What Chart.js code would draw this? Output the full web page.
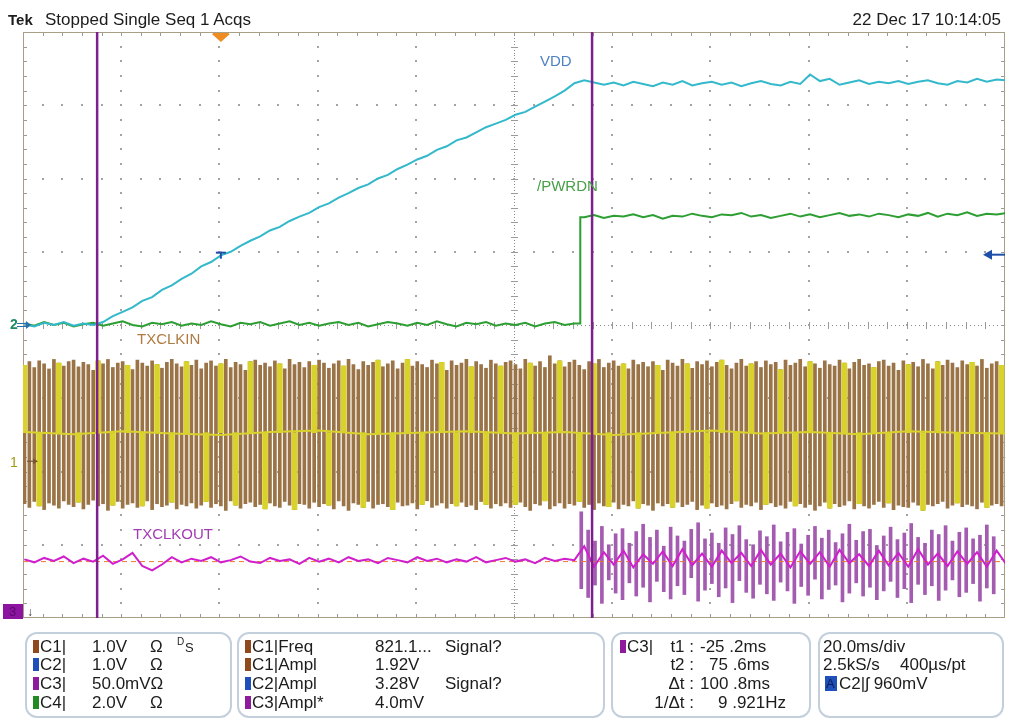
<!DOCTYPE html>
<html>
<head>
<meta charset="utf-8">
<title>Tek capture - VDD / PWRDN / TXCLK</title>
<script src="https://cdn.jsdelivr.net/npm/chart.js@4.4.1/dist/chart.umd.min.js"></script>
<style>
  html, body { margin: 0; padding: 0; background: #fff; }
  body { position: relative; width: 1009px; height: 719px; overflow: hidden;
         font-family: "Liberation Sans", Arial, sans-serif; color: #1c1c1c; }
  #scope { position: absolute; left: 0; top: 0; }
  .t { position: absolute; white-space: nowrap; line-height: 1; }
  .hdr { font-size: 17px; top: 11px; }
  .lbl { font-size: 15px; }
  .row { font-size: 17px; }
  .box { position: absolute; top: 632px; height: 86px; box-sizing: border-box;
         border: 2px solid #c3d0dc; border-radius: 12px; }
  .sw { position: absolute; width: 6px; height: 13px; }
</style>
</head>
<body>
<canvas id="scope" width="1009" height="719"></canvas>

<!-- header -->
<div class="t hdr" style="left:8px;font-weight:bold;font-size:15px;top:12px">Tek</div>
<div class="t hdr" style="left:45px">Stopped Single Seq 1 Acqs</div>
<div class="t hdr" style="right:8px">22 Dec 17 10:14:05</div>

<!-- trace labels -->
<div class="t lbl" style="left:540px;top:53px;color:#4f82c2">VDD</div>
<div class="t lbl" style="left:537px;top:178px;color:#46a046">/PWRDN</div>
<div class="t lbl" style="left:137px;top:331px;color:#b07b42">TXCLKIN</div>
<div class="t lbl" style="left:133px;top:526px;color:#a23cb2">TXCLKOUT</div>

<!-- channel ground markers -->
<div class="t" style="left:10px;top:317px;font-size:14px;font-weight:bold;color:#1f8c62">2</div>
<div class="t" style="left:10px;top:455px;font-size:14px;color:#a39a12">1</div>
<div style="position:absolute;left:3px;top:604px;width:20px;height:15px;background:#8c14a0"></div>
<div class="t" style="left:9px;top:605px;font-size:13px;color:#5a0a6c">3</div>
<div class="t" style="left:27px;top:606px;font-size:12px;color:#333">↓</div>

<!-- readout boxes -->
<div class="box" style="left:25px;width:207px"></div>
<div class="box" style="left:237px;width:368px"></div>
<div class="box" style="left:611px;width:200px"></div>
<div class="box" style="left:818px;width:186px"></div>

<div class="sw" style="left:33px;top:640px;background:#8e4a1c"></div>
<div class="t row" style="left:40px;top:638px">C1|</div>
<div class="t row" style="left:92px;top:638px">1.0V</div>
<div class="t row" style="left:150px;top:638px">Ω</div>
<div class="t" style="left:177px;top:637px;font-size:10px">D</div>
<div class="t" style="left:185px;top:641px;font-size:13px">S</div>
<div class="sw" style="left:33px;top:658px;background:#1f4fb8"></div>
<div class="t row" style="left:40px;top:656px">C2|</div>
<div class="t row" style="left:92px;top:656px">1.0V</div>
<div class="t row" style="left:150px;top:656px">Ω</div>
<div class="sw" style="left:33px;top:677px;background:#8e1a9c"></div>
<div class="t row" style="left:40px;top:675px">C3|</div>
<div class="t row" style="left:92px;top:675px">50.0mVΩ</div>
<div class="sw" style="left:33px;top:696px;background:#238a23"></div>
<div class="t row" style="left:40px;top:694px">C4|</div>
<div class="t row" style="left:92px;top:694px">2.0V</div>
<div class="t row" style="left:150px;top:694px">Ω</div>

<div class="sw" style="left:245px;top:640px;background:#8e4a1c"></div>
<div class="t row" style="left:252px;top:638px">C1|Freq</div>
<div class="t row" style="left:375px;top:638px">821.1...</div>
<div class="t row" style="left:445px;top:638px">Signal?</div>
<div class="sw" style="left:245px;top:658px;background:#8e4a1c"></div>
<div class="t row" style="left:252px;top:656px">C1|Ampl</div>
<div class="t row" style="left:375px;top:656px">1.92V</div>
<div class="sw" style="left:245px;top:677px;background:#1f4fb8"></div>
<div class="t row" style="left:252px;top:675px">C2|Ampl</div>
<div class="t row" style="left:375px;top:675px">3.28V</div>
<div class="t row" style="left:445px;top:675px">Signal?</div>
<div class="sw" style="left:245px;top:696px;background:#8e1a9c"></div>
<div class="t row" style="left:252px;top:694px">C3|Ampl*</div>
<div class="t row" style="left:375px;top:694px">4.0mV</div>

<div class="sw" style="left:620px;top:640px;background:#8e1a9c"></div>
<div class="t row" style="left:627px;top:638px">C3|</div>
<div class="t row" style="right:315px;top:638px">t1 :</div>
<div class="t row" style="left:700px;top:638px">-25 .2ms</div>
<div class="t row" style="right:315px;top:656px">t2 :</div>
<div class="t row" style="left:709px;top:656px">75 .6ms</div>
<div class="t row" style="right:315px;top:675px">Δt :</div>
<div class="t row" style="left:700px;top:675px">100 .8ms</div>
<div class="t row" style="right:315px;top:694px">1/Δt :</div>
<div class="t row" style="left:718px;top:694px">9 .921Hz</div>

<div class="t row" style="left:823px;top:638px">20.0ms/div</div>
<div class="t row" style="left:823px;top:656px">2.5kS/s</div>
<div class="t row" style="left:900px;top:656px">400µs/pt</div>
<div style="position:absolute;left:825px;top:676px;width:12px;height:15px;background:#1f4fb8"></div>
<div class="t" style="left:826px;top:677px;font-size:13px;color:#0a1e55">A</div>
<div class="t row" style="left:839px;top:675px">C2|ʃ 960mV</div>

<script>
// scope settings (20 ms/div, 10 x 8 divisions, values in divisions)
const X_MIN = -40.3, X_MAX = 159.7;
const Y_MIN = -4, Y_MAX = 4;
const CURSORS = [-25.2, 75.6];
const TRIG_TIME = 0;
const TRIG_LEVEL = 0.96;
const CH1_POS = -1.86;
const CH2_POS = 0;

// slow traces, one sample every 2 ms from -40 ms
const LINE_T0 = -40, LINE_DT = 2;
const VDD = [
  0.01, -0.02, 0.03, 0.00, 0.04, -0.01, 0.02, 0.00, 0.04, 0.12,
  0.18, 0.24, 0.33, 0.38, 0.48, 0.54, 0.63, 0.70, 0.80, 0.86,
  0.95, 1.00, 1.08, 1.15, 1.21, 1.29, 1.34, 1.42, 1.48, 1.53,
  1.61, 1.66, 1.74, 1.80, 1.87, 1.92, 2.00, 2.05, 2.13, 2.19,
  2.26, 2.31, 2.39, 2.44, 2.52, 2.56, 2.63, 2.70, 2.75, 2.80,
  2.87, 2.91, 2.98, 3.05, 3.12, 3.20, 3.30, 3.34, 3.31, 3.28,
  3.31, 3.27, 3.32, 3.29, 3.26, 3.31, 3.28, 3.33, 3.27, 3.30,
  3.32, 3.28, 3.31, 3.26, 3.30, 3.33, 3.29, 3.27, 3.32, 3.29,
  3.42, 3.33, 3.36, 3.28, 3.31, 3.34, 3.29, 3.32, 3.30, 3.33,
  3.29, 3.32, 3.34, 3.30, 3.28, 3.33, 3.31, 3.36, 3.32, 3.35,
  3.34
];
const PWRDN = [
  0.02, -0.01, 0.04, 0.00, 0.03, -0.02, 0.01, 0.03, -0.01, 0.02,
  0.05, 0.00, -0.02, 0.03, 0.01, 0.04, -0.01, 0.02, 0.00, 0.05,
  0.01, -0.02, 0.03, 0.01, 0.04, -0.01, 0.02, 0.05, 0.00, 0.03,
  -0.01, 0.02, 0.04, 0.00, 0.03, -0.02, 0.01, 0.04, 0.02, -0.01,
  0.03, 0.00, 0.05, 0.01, -0.02, 0.03, 0.01, 0.04, -0.01, 0.02,
  0.00, 0.03, -0.02, 0.02, 0.04, 0.00, 0.02,
  1.47, 1.50, 1.46, 1.49, 1.48, 1.51, 1.47, 1.50, 1.45, 1.49,
  1.48, 1.52, 1.49, 1.47, 1.51, 1.50, 1.53, 1.48, 1.50, 1.46,
  1.49, 1.52, 1.48, 1.51, 1.47, 1.50, 1.53, 1.49, 1.51, 1.48,
  1.52, 1.50, 1.47, 1.51, 1.49, 1.53, 1.48, 1.52, 1.50, 1.54,
  1.49, 1.52, 1.51, 1.53
];
const PWRDN_EDGE = 73.2;
const TXCLKOUT = [
  -3.20, -3.24, -3.18, -3.22, -3.16, -3.25, -3.19, -3.23, -3.15, -3.26,
  -3.20, -3.11, -3.29, -3.35, -3.27, -3.17, -3.24, -3.19, -3.22, -3.17,
  -3.24, -3.21, -3.16, -3.23, -3.25, -3.18, -3.22, -3.20, -3.26, -3.18,
  -3.23, -3.19, -3.24, -3.17, -3.22, -3.20, -3.25, -3.18, -3.21, -3.24,
  -3.17, -3.22, -3.19, -3.24, -3.20, -3.23, -3.17, -3.24, -3.21, -3.18,
  -3.23, -3.20, -3.25, -3.18, -3.22, -3.19, -3.21,
  -3.02, -3.30, -3.10, -3.27, -3.08, -3.31, -3.13, -3.26, -3.09, -3.29,
  -3.06, -3.28, -3.12, -3.30, -3.08, -3.25, -3.11, -3.29, -3.07, -3.27,
  -3.12, -3.31, -3.09, -3.26, -3.10, -3.30, -3.07, -3.25, -3.13, -3.29,
  -3.08, -3.28, -3.11, -3.30, -3.06, -3.27, -3.12, -3.29, -3.09, -3.26,
  -3.10, -3.30, -3.08, -3.27
];
const TXCLKOUT_REF = -3.23;

// TXCLKIN aliased clock, one transition every 1 ms from -40 ms
const CLK_T0 = -40, CLK_DT = 1;
const CLKIN_HI = [
  -0.55, -0.50, -0.58, -0.49, -0.53, -0.60, -0.47, -0.52, -0.56, -0.50,
  -0.48, -0.57, -0.51, -0.54, -0.62, -0.49, -0.53, -0.47, -0.58, -0.52,
  -0.50, -0.55, -0.61, -0.48, -0.52, -0.56, -0.49, -0.54, -0.59, -0.51,
  -0.47, -0.53, -0.57, -0.50, -0.55, -0.48, -0.60, -0.52, -0.49, -0.56,
  -0.53, -0.47, -0.58, -0.51, -0.54, -0.62, -0.50, -0.48, -0.55, -0.52,
  -0.57, -0.49, -0.53, -0.60, -0.47, -0.54, -0.51, -0.58, -0.50, -0.55,
  -0.48, -0.52, -0.59, -0.53, -0.49, -0.56, -0.47, -0.54, -0.61, -0.50,
  -0.55, -0.51, -0.48, -0.57, -0.53, -0.49, -0.60, -0.52, -0.47, -0.56,
  -0.50, -0.54, -0.58, -0.48, -0.53, -0.51, -0.62, -0.49, -0.55, -0.52,
  -0.47, -0.57, -0.50, -0.54, -0.59, -0.48, -0.53, -0.56, -0.51, -0.49,
  -0.54, -0.60, -0.47, -0.52, -0.56, -0.50, -0.58, -0.42, -0.53, -0.49,
  -0.57, -0.51, -0.48, -0.55, -0.61, -0.50, -0.53, -0.47, -0.58, -0.52,
  -0.49, -0.56, -0.53, -0.60, -0.48, -0.54, -0.51, -0.57, -0.50, -0.55,
  -0.62, -0.48, -0.52, -0.56, -0.47, -0.53, -0.59, -0.50, -0.54, -0.49,
  -0.57, -0.51, -0.48, -0.55, -0.60, -0.52, -0.47, -0.56, -0.53, -0.50,
  -0.58, -0.49, -0.54, -0.51, -0.61, -0.48, -0.55, -0.52, -0.47, -0.57,
  -0.50, -0.53, -0.59, -0.49, -0.54, -0.56, -0.48, -0.52, -0.60, -0.51,
  -0.47, -0.55, -0.53, -0.58, -0.50, -0.48, -0.56, -0.52, -0.62, -0.49,
  -0.54, -0.51, -0.57, -0.47, -0.53, -0.60, -0.50, -0.55, -0.48, -0.52,
  -0.58, -0.49, -0.54, -0.51, -0.56, -0.47, -0.59, -0.53, -0.50, -0.55
];
const CLKIN_LO = [
  -2.44, -2.49, -2.41, -2.47, -2.52, -2.43, -2.46, -2.50, -2.40, -2.45,
  -2.48, -2.42, -2.51, -2.45, -2.39, -2.47, -2.44, -2.53, -2.46, -2.41,
  -2.50, -2.45, -2.43, -2.49, -2.47, -2.40, -2.52, -2.44, -2.48, -2.46,
  -2.42, -2.51, -2.45, -2.47, -2.43, -2.50, -2.46, -2.41, -2.49, -2.44,
  -2.47, -2.53, -2.40, -2.46, -2.50, -2.44, -2.42, -2.48, -2.45, -2.51,
  -2.43, -2.47, -2.49, -2.41, -2.46, -2.52, -2.44, -2.45, -2.50, -2.42,
  -2.48, -2.44, -2.46, -2.51, -2.40, -2.47, -2.53, -2.43, -2.45, -2.49,
  -2.41, -2.50, -2.45, -2.44, -2.48, -2.52, -2.42, -2.47, -2.46, -2.43,
  -2.51, -2.45, -2.40, -2.49, -2.46, -2.43, -2.50, -2.44, -2.47, -2.42,
  -2.48, -2.46, -2.52, -2.41, -2.45, -2.50, -2.44, -2.47, -2.43, -2.49,
  -2.45, -2.42, -2.48, -2.53, -2.44, -2.46, -2.40, -2.51, -2.47, -2.43,
  -2.50, -2.44, -2.46, -2.41, -2.49, -2.45, -2.52, -2.43, -2.47, -2.48,
  -2.42, -2.51, -2.45, -2.47, -2.40, -2.50, -2.44, -2.46, -2.53, -2.43,
  -2.47, -2.44, -2.49, -2.42, -2.48, -2.45, -2.41, -2.52, -2.46, -2.50,
  -2.43, -2.48, -2.46, -2.51, -2.44, -2.40, -2.49, -2.45, -2.47, -2.42,
  -2.52, -2.45, -2.43, -2.48, -2.46, -2.50, -2.41, -2.47, -2.44, -2.49,
  -2.45, -2.53, -2.47, -2.42, -2.50, -2.44, -2.48, -2.46, -2.40, -2.51,
  -2.44, -2.47, -2.50, -2.45, -2.41, -2.49, -2.43, -2.52, -2.46, -2.48,
  -2.49, -2.42, -2.46, -2.53, -2.45, -2.47, -2.44, -2.41, -2.50, -2.46,
  -2.43, -2.48, -2.45, -2.47, -2.51, -2.42, -2.49, -2.46, -2.44, -2.47
];
const CLKIN_MID = -1.47;
// which transitions show the bright (yellow) persistence: u = upper half, l = lower half
const CLKIN_BRIGHT = [
  "u..l...", "u...l...", "u..l..", "u..l..", "u..l..", "u...l..", "u..l..", "u..l",
  "..", "u..l...", "u..l..", "u...l..", "u..l..", "u..l...", "u..l..", "u..l..", "u..",
  "l..", "u..l..", "u...l..", "u..l..", "u..l...", "u..l..", "u...l..", "u..l..", "u.",
  ".l..", "u..l..", "u...l..", "u..l..", "u..l...", "u..l..", "u...l..", "u..l..", "u"
].join("");
const CLKIN_MIDLINE_DT = 10;
const CLKIN_MIDLINE = [
  -1.46, -1.49, -1.45, -1.48, -1.50, -1.46, -1.44, -1.49, -1.47, -1.45, -1.48,
  -1.46, -1.50, -1.47, -1.44, -1.48, -1.46, -1.49, -1.45, -1.47, -1.48
];

// TXCLKOUT transitions after the power-up edge, one every 1.4 ms
const OUT_T0 = 73.4, OUT_DT = 1.4;
const OUT_HI = [
  -2.55, -2.80, -2.95, -2.75, -3.00, -2.85, -2.78, -2.98, -2.82, -2.72,
  -2.90, -2.80, -3.02, -2.76, -2.88, -2.95, -2.79, -2.70, -2.92, -2.84,
  -2.98, -2.77, -2.86, -2.74, -2.93, -3.00, -2.81, -2.89, -2.73, -2.96,
  -2.83, -2.78, -2.99, -2.87, -2.75, -2.91, -2.80, -2.97, -2.85, -2.72,
  -2.94, -2.82, -2.79, -3.01, -2.88, -2.76, -2.93, -2.84, -2.71, -2.90,
  -2.98, -2.80, -2.86, -2.74, -2.95, -2.83, -2.77, -2.92, -2.87, -2.73, -2.89
];
const OUT_LO = [
  -3.60, -3.72, -3.55, -3.80, -3.48, -3.66, -3.75, -3.52, -3.70, -3.58,
  -3.78, -3.50, -3.64, -3.74, -3.56, -3.68, -3.45, -3.77, -3.62, -3.53,
  -3.71, -3.59, -3.79, -3.49, -3.65, -3.73, -3.54, -3.67, -3.76, -3.51,
  -3.63, -3.80, -3.57, -3.69, -3.47, -3.74, -3.61, -3.55, -3.78, -3.66,
  -3.52, -3.70, -3.58, -3.75, -3.63, -3.50, -3.72, -3.60, -3.79, -3.54,
  -3.68, -3.56, -3.76, -3.62, -3.48, -3.71, -3.65, -3.53, -3.77, -3.59, -3.67
];

// build point lists
const lineT = (i) => LINE_T0 + i * LINE_DT;
const vddPts = VDD.map((v, i) => ({ x: lineT(i), y: v }));
const outPts = TXCLKOUT.map((v, i) => ({ x: lineT(i), y: v }));

const pwrPts = [];
PWRDN.forEach((v, i) => {
  const t = lineT(i);
  const last = pwrPts[pwrPts.length - 1];
  if (last && last.x < PWRDN_EDGE && t > PWRDN_EDGE) {
    pwrPts.push({ x: PWRDN_EDGE, y: last.y });
    pwrPts.push({ x: PWRDN_EDGE, y: v });
  }
  pwrPts.push({ x: t, y: v });
});

const clkBars = CLKIN_HI.map((h, i) => ({ x: CLK_T0 + i * CLK_DT, y: [CLKIN_LO[i], h] }));
const clkBright = [];
for (let i = 0; i < CLKIN_BRIGHT.length && i < CLKIN_HI.length; i++) {
  const c = CLKIN_BRIGHT[i];
  const t = CLK_T0 + i * CLK_DT;
  if (c === "u") clkBright.push({ x: t, y: [CLKIN_MID, CLKIN_HI[i]] });
  if (c === "l") clkBright.push({ x: t, y: [CLKIN_LO[i], CLKIN_MID] });
}
const midPts = CLKIN_MIDLINE.map((v, i) => ({ x: LINE_T0 + i * CLKIN_MIDLINE_DT, y: v }));
const outBars = OUT_HI.map((h, i) => ({ x: OUT_T0 + i * OUT_DT, y: [OUT_LO[i], h] }));

// graticule: dotted grid, centre cross with minor ticks, edge ticks
const graticule = {
  id: "graticule",
  beforeDatasetsDraw(chart) {
    const { ctx, chartArea: a, scales: { x, y } } = chart;
    const xDiv = (X_MAX - X_MIN) / 10;
    ctx.save();
    ctx.fillStyle = "#a3a3a3";
    for (let i = 1; i < 10; i++) {
      if (i === 5) continue;
      const px = Math.round(x.getPixelForValue(X_MIN + i * xDiv));
      for (let j = 1; j < 40; j++) {
        const py = Math.round(y.getPixelForValue(Y_MIN + j * 0.2));
        ctx.fillRect(px - 1, py - 1, 2, 2);
      }
    }
    for (let j = 1; j < 8; j++) {
      if (j === 4) continue;
      const py = Math.round(y.getPixelForValue(Y_MIN + j));
      for (let i = 1; i < 50; i++) {
        const px = Math.round(x.getPixelForValue(X_MIN + i * xDiv / 5));
        ctx.fillRect(px - 1, py - 1, 2, 2);
      }
    }
    // centre cross
    const cx = Math.round(x.getPixelForValue(X_MIN + 5 * xDiv));
    const cy = Math.round(y.getPixelForValue(0));
    ctx.fillStyle = "#8a8a8a";
    for (let j = 0; j < 200; j++) {
      const py = Math.round(y.getPixelForValue(Y_MIN + j * 0.04));
      ctx.fillRect(cx, py, 1, 1);
    }
    for (let i = 0; i < 250; i++) {
      const px = Math.round(x.getPixelForValue(X_MIN + i * xDiv / 25));
      ctx.fillRect(px, cy, 1, 1);
    }
    ctx.strokeStyle = "#9a9a9a";
    ctx.lineWidth = 1;
    ctx.beginPath();
    for (let j = 1; j < 40; j++) {
      const py = Math.round(y.getPixelForValue(Y_MIN + j * 0.2)) + 0.5;
      ctx.moveTo(cx - 3, py); ctx.lineTo(cx + 4, py);
      ctx.moveTo(a.left, py); ctx.lineTo(a.left + 4, py);
      ctx.moveTo(a.right - 4, py); ctx.lineTo(a.right, py);
    }
    for (let i = 1; i < 50; i++) {
      const px = Math.round(x.getPixelForValue(X_MIN + i * xDiv / 5)) + 0.5;
      ctx.moveTo(px, cy - 3); ctx.lineTo(px, cy + 4);
      ctx.moveTo(px, a.top); ctx.lineTo(px, a.top + 4);
      ctx.moveTo(px, a.bottom - 4); ctx.lineTo(px, a.bottom);
    }
    ctx.stroke();
    // frame
    ctx.strokeStyle = "#a99f86";
    ctx.strokeRect(a.left + 0.5, a.top + 0.5, a.right - a.left - 1, a.bottom - a.top - 1);
    ctx.restore();
  }
};

// trigger position / level and channel arrows
const markers = {
  id: "markers",
  afterDatasetsDraw(chart) {
    const { ctx, chartArea: a, scales: { x, y } } = chart;
    const tx = x.getPixelForValue(TRIG_TIME);
    const ty = y.getPixelForValue(TRIG_LEVEL);
    ctx.save();
    ctx.fillStyle = "#ee8c24";
    ctx.fillRect(tx - 8, a.top + 1, 16, 2);
    ctx.beginPath();
    ctx.moveTo(tx - 9, a.top + 2); ctx.lineTo(tx + 9, a.top + 2); ctx.lineTo(tx, a.top + 10);
    ctx.closePath(); ctx.fill();

    ctx.fillStyle = "#1f4fa8";
    ctx.fillRect(tx - 5, ty - 3, 10, 2);
    ctx.fillRect(tx - 1, ty - 3, 2, 7);

    ctx.beginPath();
    ctx.moveTo(a.right - 22, ty); ctx.lineTo(a.right - 13, ty - 5); ctx.lineTo(a.right - 13, ty + 5);
    ctx.closePath(); ctx.fill();
    ctx.fillRect(a.right - 14, ty - 1, 14, 2);

    const c1 = y.getPixelForValue(CH1_POS);
    ctx.strokeStyle = "#7a5530"; ctx.fillStyle = "#7a5530"; ctx.lineWidth = 1.2;
    ctx.beginPath(); ctx.moveTo(a.left + 4, c1); ctx.lineTo(a.left + 12, c1); ctx.stroke();
    ctx.beginPath(); ctx.moveTo(a.left + 15, c1); ctx.lineTo(a.left + 10, c1 - 3); ctx.lineTo(a.left + 10, c1 + 3);
    ctx.closePath(); ctx.fill();

    const c2 = y.getPixelForValue(CH2_POS);
    ctx.strokeStyle = "#2a6fb0"; ctx.fillStyle = "#2a6fb0";
    ctx.beginPath(); ctx.moveTo(a.left - 6, c2 - 1.5); ctx.lineTo(a.left + 4, c2 - 1.5);
    ctx.moveTo(a.left - 6, c2 + 1.5); ctx.lineTo(a.left + 4, c2 + 1.5); ctx.stroke();
    ctx.beginPath(); ctx.moveTo(a.left + 8, c2); ctx.lineTo(a.left + 3, c2 - 4); ctx.lineTo(a.left + 3, c2 + 4);
    ctx.closePath(); ctx.fill();
    ctx.restore();
  }
};

const cursorLine = (t) => [{ x: t, y: Y_MIN }, { x: t, y: Y_MAX }];

new Chart(document.getElementById("scope"), {
  type: "line",
  data: {
    datasets: [
      { data: cursorLine(CURSORS[0]), borderColor: "#7d1f8f", borderWidth: 2.5, order: 0 },
      { data: cursorLine(CURSORS[1]), borderColor: "#7d1f8f", borderWidth: 2.5, order: 0 },
      { label: "VDD", data: vddPts, borderColor: "#33b9cb", borderWidth: 2, order: 1 },
      { label: "/PWRDN", data: pwrPts, borderColor: "#2c9e32", borderWidth: 2, order: 2 },
      { label: "TXCLKOUT", data: outPts, borderColor: "#d01fcc", borderWidth: 2, order: 3 },
      { data: [{ x: X_MIN, y: TXCLKOUT_REF }, { x: X_MAX, y: TXCLKOUT_REF }],
        borderColor: "#ec7a2c", borderWidth: 1, borderDash: [5, 4], order: 4 },
      { type: "bar", data: outBars, backgroundColor: "#a35cb0", barThickness: 3,
        grouped: false, borderWidth: 0, order: 5 },
      { data: midPts, borderColor: "#d8d22c", borderWidth: 2, order: 6 },
      { type: "bar", label: "TXCLKIN bright", data: clkBright, backgroundColor: "#d8d22a",
        barThickness: 5, grouped: false, borderWidth: 0, order: 7 },
      { type: "bar", label: "TXCLKIN", data: clkBars, backgroundColor: "#9a7346",
        barThickness: 3, grouped: false, borderWidth: 0, order: 8 }
    ]
  },
  options: {
    responsive: false,
    animation: false,
    events: [],
    layout: { padding: { left: 23, top: 32, right: 4, bottom: 101 } },
    plugins: { legend: { display: false }, tooltip: { enabled: false } },
    elements: { point: { radius: 0 }, line: { tension: 0 } },
    scales: {
      x: { type: "linear", min: X_MIN, max: X_MAX, display: false, offset: false },
      y: { type: "linear", min: Y_MIN, max: Y_MAX, display: false }
    }
  },
  plugins: [graticule, markers]
});
</script>
</body>
</html>
